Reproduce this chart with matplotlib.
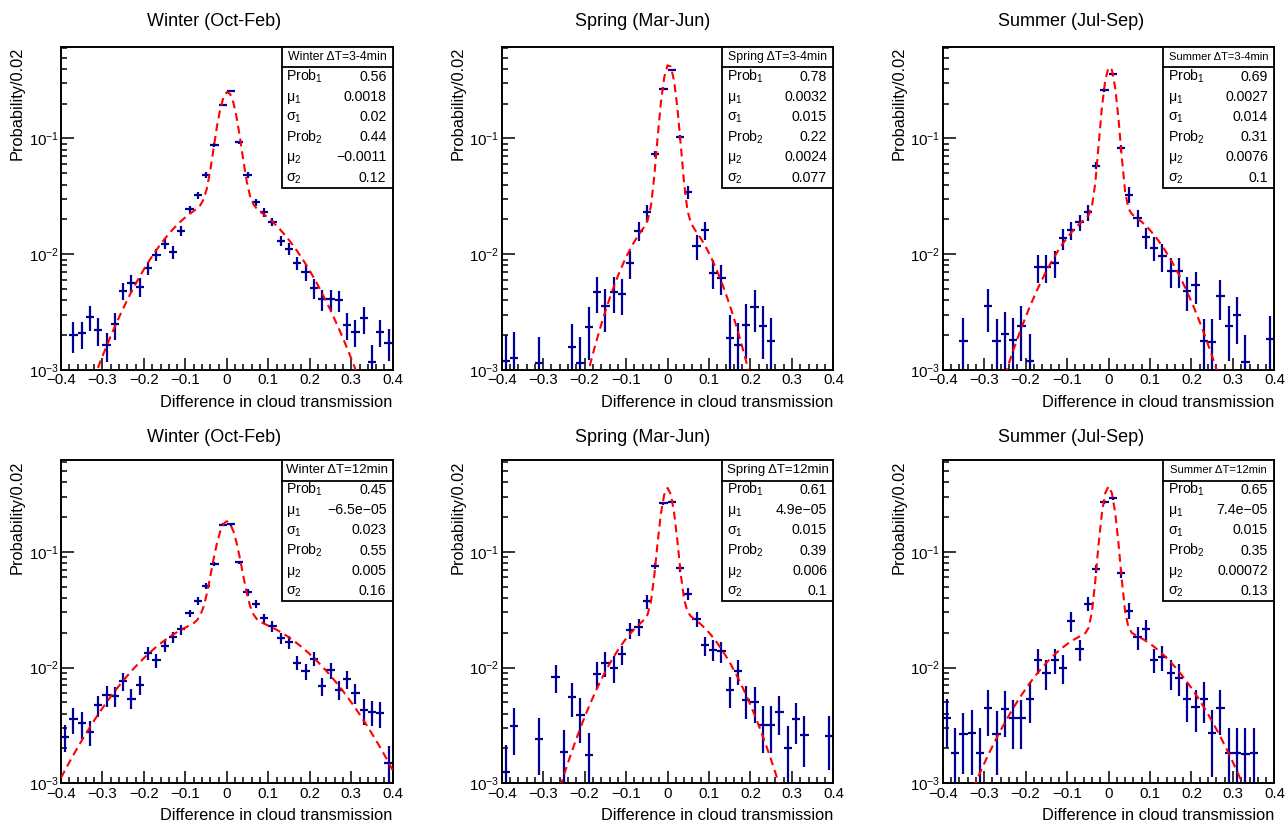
import numpy as np
import matplotlib.pyplot as plt
from matplotlib.patches import Rectangle
from matplotlib.lines import Line2D
from matplotlib.ticker import LogLocator, MultipleLocator, FuncFormatter, NullFormatter

plt.rcParams['font.family'] = ['Liberation Sans', 'DejaVu Sans']
plt.rcParams['mathtext.fontset'] = 'custom'
plt.rcParams['mathtext.rm'] = 'Liberation Sans'
plt.rcParams['mathtext.it'] = 'Liberation Sans:italic'
plt.rcParams['mathtext.bf'] = 'Liberation Sans:bold'

# 40 bins of width 0.02 between -0.4 and 0.4
bin_edges = np.linspace(-0.4, 0.4, 41)
bin_centers = 0.5 * (bin_edges[:-1] + bin_edges[1:])

titles = ["Winter (Oct-Feb)", "Spring (Mar-Jun)", "Summer (Jul-Sep)",
          "Winter (Oct-Feb)", "Spring (Mar-Jun)", "Summer (Jul-Sep)"]
box_headers = ["Winter \u0394T=3-4min", "Spring \u0394T=3-4min", "Summer \u0394T=3-4min",
               "Winter \u0394T=12min", "Spring \u0394T=12min", "Summer \u0394T=12min"]

# bin contents (0 = empty bin)
winter_34 = [0, 0.0020, 0.00207, 0.00288, 0.00221, 0.00164, 0.00248, 0.00484, 0.00567, 0.00524,
             0.00763, 0.00984, 0.01225, 0.0105, 0.0160, 0.0244, 0.0324, 0.0482, 0.0875, 0.193,
             0.258, 0.0923, 0.0482, 0.0280, 0.0230, 0.0191, 0.0131, 0.0112, 0.00833, 0.00697,
             0.00507, 0.00407, 0.00407, 0.00403, 0.00244, 0.00214, 0.00279, 0.00118, 0.00214, 0.00172]
winter_34_err = [0, 0.00061, 0.00054, 0.00070, 0.00061, 0.00046, 0.00065, 0.00083, 0.00094, 0.00094,
                 0.00102, 0.00117, 0.00119, 0.00133, 0.00155, 0.00166, 0.0022, 0.0026, 0.0030, 0.0040,
                 0.0050, 0.0030, 0.0026, 0.0017, 0.0019, 0.0016, 0.00136, 0.00133, 0.00106, 0.0011,
                 0.0010, 0.00083, 0.00083, 0.00083, 0.00064, 0.00056, 0.00073, 0.00046, 0.00056, 0.00052]

spring_34 = [0.00120, 0.00128, 0, 0, 0.00116, 0, 0, 0, 0.00159, 0.00116,
             0.00236, 0.00472, 0.00358, 0.00472, 0.00457, 0.00839, 0.0160, 0.0231, 0.0733, 0.269,
             0.390, 0.102, 0.0343, 0.01175, 0.01626, 0.00693, 0.00624, 0.00190, 0.00166, 0.00247,
             0.00351, 0.00241, 0.00178, 0, 0, 0, 0, 0, 0, 0]
spring_34_err = [0.00081, 0.00086, 0, 0, 0.00078, 0, 0, 0, 0.00089, 0.00078,
                 0.00115, 0.00163, 0.00147, 0.0016, 0.00158, 0.00225, 0.0031, 0.0036, 0.0039, 0.008,
                 0.010, 0.005, 0.0044, 0.0028, 0.0029, 0.0019, 0.0018, 0.00108, 0.0009, 0.00122,
                 0.00137, 0.00117, 0.00101, 0, 0, 0, 0, 0, 0, 0]

summer_34 = [0, 0, 0.00178, 0, 0, 0.00358, 0.00178, 0.00204, 0.00181, 0.00239,
             0.0012, 0.00776, 0.0077, 0.0084, 0.01377, 0.01626, 0.0189, 0.0231, 0.0582, 0.262,
             0.358, 0.082, 0.0327, 0.0206, 0.01406, 0.01138, 0.00958, 0.00716, 0.00716, 0.00482,
             0.00539, 0.00178, 0.00176, 0.00436, 0.00239, 0.00297, 0.00118, 0, 0, 0.00185]
summer_34_err = [0, 0, 0.00105, 0, 0, 0.00147, 0.0010, 0.00114, 0.0010, 0.00119,
                 0.00084, 0.00215, 0.0021, 0.0022, 0.0028, 0.0029, 0.0031, 0.0036, 0.0040, 0.008,
                 0.010, 0.005, 0.0051, 0.0035, 0.0029, 0.0027, 0.0026, 0.0021, 0.0021, 0.0016,
                 0.0017, 0.0010, 0.0010, 0.00167, 0.0012, 0.0013, 0.00083, 0, 0, 0.00107]

winter_12 = [0.00252, 0.00356, 0.00329, 0.00279, 0.00472, 0.00575, 0.0057, 0.00766, 0.0054, 0.00711,
             0.01334, 0.01153, 0.01531, 0.01832, 0.02133, 0.02946, 0.03784, 0.0503, 0.0783, 0.1706,
             0.173, 0.081, 0.0447, 0.0355, 0.02667, 0.02275, 0.01794, 0.01659, 0.01101, 0.00934,
             0.01191, 0.00689, 0.00946, 0.00644, 0.00791, 0.00604, 0.00428, 0.00414, 0.00401, 0.00149]
winter_12_err = [0.00066, 0.00087, 0.00086, 0.00068, 0.00096, 0.00117, 0.00115, 0.00138, 0.00106, 0.00128,
                 0.0017, 0.00163, 0.00182, 0.0019, 0.0021, 0.0022, 0.003, 0.003, 0.003, 0.005,
                 0.005, 0.003, 0.003, 0.0029, 0.0024, 0.0024, 0.002, 0.002, 0.00155, 0.00147,
                 0.00168, 0.00124, 0.00149, 0.00116, 0.00136, 0.00123, 0.00112, 0.0010, 0.00098, 0.00061]

spring_12 = [0.00126, 0.00313, 0, 0, 0.00241, 0, 0.00828, 0.00187, 0.00557, 0.00387,
             0.00175, 0.00885, 0.01094, 0.0100, 0.01297, 0.0209, 0.02232, 0.0373, 0.0757, 0.262,
             0.271, 0.0723, 0.0432, 0.0263, 0.01552, 0.01425, 0.01378, 0.00635, 0.00933, 0.00528,
             0.00505, 0.00322, 0.00322, 0.00414, 0.00203, 0.00356, 0.00261, 0, 0, 0.00255]
spring_12_err = [0.00088, 0.00137, 0, 0, 0.00122, 0, 0.0023, 0.00104, 0.00183, 0.00163,
                 0.00098, 0.0023, 0.0027, 0.0026, 0.0025, 0.0033, 0.0037, 0.005, 0.005, 0.009,
                 0.009, 0.005, 0.0051, 0.0037, 0.0029, 0.0029, 0.0028, 0.0019, 0.0022, 0.0017,
                 0.00175, 0.0014, 0.0014, 0.00155, 0.00109, 0.00139, 0.00122, 0, 0, 0.00124]

summer_12 = [0.0037, 0.00181, 0.00264, 0.00273, 0.00181, 0.00451, 0.00269, 0.00442, 0.00363, 0.00363,
             0.0054, 0.01167, 0.0090, 0.01167, 0.00998, 0.02545, 0.01432, 0.0355, 0.0709, 0.271,
             0.290, 0.0655, 0.031, 0.01833, 0.02133, 0.01167, 0.0123, 0.00898, 0.00818, 0.0054,
             0.00457, 0.0054, 0.00273, 0.00451, 0.00181, 0.00181, 0.00178, 0.00182, 0, 0]
summer_12_err = [0.0017, 0.00122, 0.00144, 0.00155, 0.0012, 0.00194, 0.0015, 0.0019, 0.00166, 0.00166,
                 0.0021, 0.0028, 0.0026, 0.0028, 0.0028, 0.005, 0.003, 0.005, 0.006, 0.010,
                 0.010, 0.006, 0.005, 0.0041, 0.0042, 0.0027, 0.0029, 0.0026, 0.0025, 0.0020,
                 0.0018, 0.0021, 0.0016, 0.0019, 0.0012, 0.0012, 0.0012, 0.0012, 0, 0]

contents = [winter_34, spring_34, summer_34, winter_12, spring_12, summer_12]
errors = [winter_34_err, spring_34_err, summer_34_err, winter_12_err, spring_12_err, summer_12_err]

# double gaussian fit results: prob1, mu1, sigma1, prob2, mu2, sigma2
prob1 = [0.56, 0.78, 0.69, 0.45, 0.61, 0.65]
mu1 = [0.0018, 0.0032, 0.0027, -6.5e-05, 4.9e-05, 7.4e-05]
sigma1 = [0.02, 0.015, 0.014, 0.023, 0.015, 0.015]
prob2 = [0.44, 0.22, 0.31, 0.55, 0.39, 0.35]
mu2 = [-0.0011, 0.0024, 0.0076, 0.005, 0.006, 0.00072]
sigma2 = [0.12, 0.077, 0.1, 0.16, 0.1, 0.13]

# as printed in the stat boxes
prob1_txt = ["0.56", "0.78", "0.69", "0.45", "0.61", "0.65"]
mu1_txt = ["0.0018", "0.0032", "0.0027", "\u22126.5e\u221205", "4.9e\u221205", "7.4e\u221205"]
sigma1_txt = ["0.02", "0.015", "0.014", "0.023", "0.015", "0.015"]
prob2_txt = ["0.44", "0.22", "0.31", "0.55", "0.39", "0.35"]
mu2_txt = ["\u22120.0011", "0.0024", "0.0076", "0.005", "0.006", "0.00072"]
sigma2_txt = ["0.12", "0.077", "0.1", "0.16", "0.1", "0.13"]

header_size = [8.8, 8.8, 8.0, 9.5, 9.5, 8.1]

bin_width = 0.02
navy = "#000099"


def double_gauss(x, p1, m1, s1, p2, m2, s2):
    g1 = p1 / (np.sqrt(2 * np.pi) * s1) * np.exp(-0.5 * ((x - m1) / s1) ** 2)
    g2 = p2 / (np.sqrt(2 * np.pi) * s2) * np.exp(-0.5 * ((x - m2) / s2) ** 2)
    return bin_width * (g1 + g2)


def fmt_x(v, pos):
    if abs(v) < 1e-9:
        return "0"
    return f"{v:.1f}".replace("-", "\u2212")


W, H = 1285, 823
fig = plt.figure(figsize=(W / 100, H / 100), dpi=100)

col_left = [61, 501.7, 942.7]
row_top = [46.7, 460]
ax_w, ax_h = 331.7, 323.3
title_y = [21, 437]
pad_centers = [214, 642.5, 1071]

for i in range(6):
    r, c = divmod(i, 3)
    ax = fig.add_axes([col_left[c] / W, 1 - (row_top[r] + ax_h) / H, ax_w / W, ax_h / H])

    y = np.array(contents[i])
    e = np.array(errors[i])
    keep = y > 0
    yk, ek = y[keep], e[keep]
    lower = np.minimum(ek, yk * 0.9999)
    ax.errorbar(bin_centers[keep], yk, xerr=bin_width / 2, yerr=[lower, ek],
                fmt="none", ecolor=navy, elinewidth=1.6, capsize=0, zorder=2)

    xf = np.linspace(-0.4, 0.4, 101)
    ax.plot(xf, double_gauss(xf, prob1[i], mu1[i], sigma1[i], prob2[i], mu2[i], sigma2[i]),
            color="#ff0000", lw=1.5, linestyle=(0, (3.8, 2.4)), zorder=3)

    ax.set_yscale("log")
    ax.set_xlim(-0.4, 0.4)
    ax.set_ylim(1e-3, 0.62)

    ax.xaxis.set_major_locator(MultipleLocator(0.1))
    ax.xaxis.set_minor_locator(MultipleLocator(0.02))
    ax.xaxis.set_major_formatter(FuncFormatter(fmt_x))
    ax.yaxis.set_major_locator(LogLocator(base=10, numticks=10))
    ax.yaxis.set_minor_locator(LogLocator(base=10, subs=np.arange(2, 10), numticks=20))
    ax.yaxis.set_minor_formatter(NullFormatter())

    ax.tick_params(which="both", direction="in", top=False, right=False, width=1.1)
    ax.tick_params(which="major", length=9)
    ax.tick_params(which="minor", length=4.5)
    ax.tick_params(axis="x", labelsize=10.8, pad=2.5)
    ax.tick_params(axis="y", labelsize=10.8, pad=1.5)
    for sp in ax.spines.values():
        sp.set_linewidth(1.4)

    ax.set_xlabel("Difference in cloud transmission", fontsize=11.8, loc="right")
    ax.xaxis.set_label_coords(1.0, -0.076)
    ax.set_ylabel("Probability/0.02", fontsize=11.8, loc="top")
    ax.yaxis.set_label_coords(-0.1085, 1.0)

    fig.text(pad_centers[c] / W, 1 - title_y[r] / H, titles[i], fontsize=13,
             ha="center", va="center")

    # stat box
    bx, bw = 0.665, 0.335
    bh, hh = 0.437, 0.064
    ax.add_patch(Rectangle((bx, 1 - bh), bw, bh, transform=ax.transAxes, facecolor="white",
                           edgecolor="black", lw=1.3, zorder=5, clip_on=False))
    ax.add_line(Line2D([bx, bx + bw], [1 - hh, 1 - hh], transform=ax.transAxes,
                       color="black", lw=1.3, zorder=6))
    ax.text(bx + bw / 2, 1 - hh / 2, box_headers[i], transform=ax.transAxes,
            fontsize=header_size[i], ha="center", va="center", zorder=7)

    labels = ["Prob$_{1}$", "\u03bc$_{1}$", "\u03c3$_{1}$",
              "Prob$_{2}$", "\u03bc$_{2}$", "\u03c3$_{2}$"]
    values = [prob1_txt[i], mu1_txt[i], sigma1_txt[i], prob2_txt[i], mu2_txt[i], sigma2_txt[i]]
    for k in range(6):
        yy = 1 - 0.105 - k * 0.0625
        ax.text(0.678, yy, labels[k], transform=ax.transAxes, fontsize=10.2,
                ha="left", va="baseline", zorder=7)
        ax.text(0.981, yy, values[k], transform=ax.transAxes, fontsize=10.2,
                ha="right", va="baseline", zorder=7)

fig.savefig("out.png", dpi=100)
